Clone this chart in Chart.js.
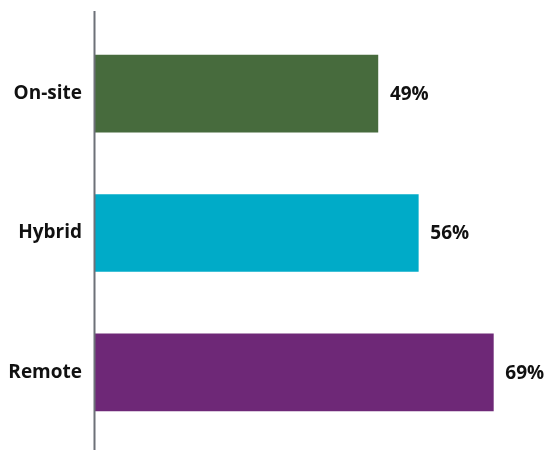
<!DOCTYPE html>
<html lang="en">
<head>
    <meta charset="UTF-8">
    <title>Work arrangement</title>
    <style>
        body {
            margin: 0;
            padding: 0;
            background: #ffffff;
        }

        .chart-container {
            width: 548px;
            height: 452px;
        }
    </style>
    <script src="https://cdn.jsdelivr.net/npm/chart.js"></script>
</head>
<body>
    <div class="chart-container">
        <canvas id="myChart"></canvas>
    </div>
    <script>
        // Données
        const categories = ['On-site', 'Hybrid', 'Remote'];
        const values = [49, 56, 69];
        const barColors = ['#476b3d', '#00abc8', '#6e2877'];

        const labelFont = { family: '"Open Sans", sans-serif', size: 19, weight: 'bold' };

        // Trait vertical de l'axe, un peu plus long que la zone du graphe
        const axisLine = {
            id: 'axisLine',
            afterDatasetsDraw(chart) {
                const { ctx, chartArea } = chart;
                ctx.save();
                ctx.strokeStyle = '#6d7178';
                ctx.lineWidth = 2;
                ctx.beginPath();
                ctx.moveTo(chartArea.left - 0.5, chartArea.top - 13);
                ctx.lineTo(chartArea.left - 0.5, chartArea.bottom + 8);
                ctx.stroke();
                ctx.restore();
            }
        };

        // Valeur en % au bout de chaque barre
        const valueLabels = {
            id: 'valueLabels',
            afterDatasetsDraw(chart) {
                const { ctx } = chart;
                const meta = chart.getDatasetMeta(0);
                ctx.save();
                ctx.font = `${labelFont.weight} ${labelFont.size}px ${labelFont.family}`;
                ctx.fillStyle = '#111111';
                ctx.textAlign = 'left';
                ctx.textBaseline = 'middle';
                meta.data.forEach((bar, i) => {
                    ctx.fillText(values[i] + '%', bar.x + 12, bar.y + 1);
                });
                ctx.restore();
            }
        };

        const ctx = document.getElementById('myChart').getContext('2d');
        const myChart = new Chart(ctx, {
            type: 'bar',
            data: {
                labels: categories,
                datasets: [{
                    data: values,
                    backgroundColor: barColors,
                    borderWidth: 0,
                    barThickness: 77
                }]
            },
            options: {
                indexAxis: 'y',
                responsive: true,
                maintainAspectRatio: false,
                animation: false,
                layout: {
                    padding: { top: 24, bottom: 10, left: 0, right: 20 }
                },
                plugins: {
                    legend: { display: false },
                    tooltip: { enabled: false }
                },
                scales: {
                    x: {
                        display: false,
                        min: 0,
                        max: 75
                    },
                    y: {
                        border: { display: false },
                        grid: { display: false, drawTicks: false },
                        ticks: {
                            color: '#111111',
                            font: labelFont,
                            padding: 13
                        },
                        afterFit(scale) {
                            scale.width = 95;
                            // pas de marge verticale pour les libellés extrêmes
                            scale.paddingTop = 0;
                            scale.paddingBottom = 0;
                        }
                    }
                }
            },
            plugins: [axisLine, valueLabels]
        });
    </script>
</body>
</html>
